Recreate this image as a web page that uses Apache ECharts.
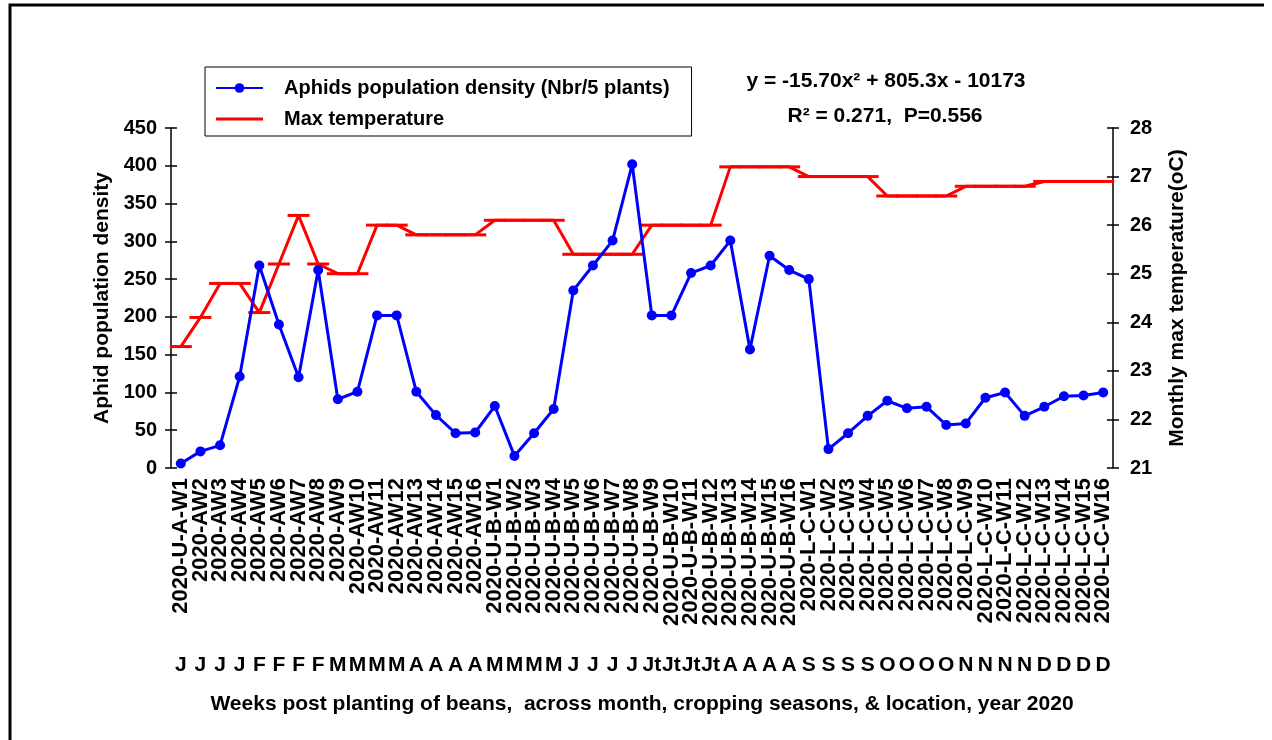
<!DOCTYPE html>
<html>
<head>
<meta charset="utf-8">
<title>Aphid population density and max temperature, 2020</title>
<script src="https://cdn.jsdelivr.net/npm/echarts@6/dist/echarts.min.js"></script>
<style>
  html, body { margin: 0; padding: 0; background: #fff; }
  #chart { width: 1272px; height: 740px; }
</style>
</head>
<body>
<div id="chart"></div>
<script>
// Weekly sampling points across the three cropping seasons / locations
const WEEKS = [
  '2020-U-A-W1', '2020-AW2', '2020-AW3', '2020-AW4', '2020-AW5', '2020-AW6', '2020-AW7', '2020-AW8',
  '2020-AW9', '2020-AW10', '2020-AW11', '2020-AW12', '2020-AW13', '2020-AW14', '2020-AW15', '2020-AW16',
  '2020-U-B-W1', '2020-U-B-W2', '2020-U-B-W3', '2020-U-B-W4', '2020-U-B-W5', '2020-U-B-W6', '2020-U-B-W7', '2020-U-B-W8',
  '2020-U-B-W9', '2020-U-B-W10', '2020-U-B-W11', '2020-U-B-W12', '2020-U-B-W13', '2020-U-B-W14', '2020-U-B-W15', '2020-U-B-W16',
  '2020-L-C-W1', '2020-L-C-W2', '2020-L-C-W3', '2020-L-C-W4', '2020-L-C-W5', '2020-L-C-W6', '2020-L-C-W7', '2020-L-C-W8',
  '2020-L-C-W9', '2020-L-C-W10', '2020-L-C-W11', '2020-L-C-W12', '2020-L-C-W13', '2020-L-C-W14', '2020-L-C-W15', '2020-L-C-W16'
];

// Month initial for each sampling week
const MONTHS = [
  'J', 'J', 'J', 'J', 'F', 'F', 'F', 'F', 'M', 'M', 'M', 'M', 'A', 'A', 'A', 'A',
  'M', 'M', 'M', 'M', 'J', 'J', 'J', 'J', 'Jt', 'Jt', 'Jt', 'Jt', 'A', 'A', 'A', 'A',
  'S', 'S', 'S', 'S', 'O', 'O', 'O', 'O', 'N', 'N', 'N', 'N', 'D', 'D', 'D', 'D'
];

// Aphids per 5 plants
const APHIDS = [
  6, 22, 30, 121, 268, 190, 120, 262, 91, 101, 202, 202, 101, 70, 46, 47,
  82, 16, 46, 78, 235, 268, 301, 402, 202, 202, 258, 268, 301, 157, 281, 262,
  250, 25, 46, 69, 89, 79, 81, 57, 59, 93, 100, 69, 81, 95, 96, 100
];

// Monthly maximum temperature (°C)
const MAX_TEMP = [
  23.5, 24.1, 24.8, 24.8, 24.2, 25.2, 26.2, 25.2, 25.0, 25.0, 26.0, 26.0, 25.8, 25.8, 25.8, 25.8,
  26.1, 26.1, 26.1, 26.1, 25.4, 25.4, 25.4, 25.4, 26.0, 26.0, 26.0, 26.0, 27.2, 27.2, 27.2, 27.2,
  27.0, 27.0, 27.0, 27.0, 26.6, 26.6, 26.6, 26.6, 26.8, 26.8, 26.8, 26.8, 26.9, 26.9, 26.9, 26.9
];

const SERIES_NAMES = ['Aphids population density (Nbr/5 plants)', 'Max temperature'];
const FIT_LINES = ['y = -15.70x² + 805.3x - 10173', 'R² = 0.271,  P=0.556'];

const FONT = '"Liberation Sans", Arial, Helvetica, sans-serif';
const BLUE = '#0000FF';
const RED = '#FF0000';
const AXIS = '#000000';

const chart = echarts.init(document.getElementById('chart'), null, { renderer: 'canvas' });

const tickLabel = { fontFamily: FONT, fontWeight: 'bold', fontSize: 20, color: '#000' };

const option = {
  backgroundColor: '#ffffff',
  animation: false,
  textStyle: { fontFamily: FONT },
  grid: { left: 171, right: 159, top: 128, bottom: 272, containLabel: false },
  legend: {
    left: 205,
    top: 67,
    orient: 'vertical',
    padding: [11, 22, 7, 10],
    itemGap: 11,
    itemWidth: 47,
    itemHeight: 12,
    borderColor: '#000',
    borderWidth: 1,
    borderRadius: 0,
    backgroundColor: '#fff',
    textStyle: { fontFamily: FONT, fontWeight: 'bold', fontSize: 20, color: '#000', padding: [0, 0, 0, 16] },
    data: [
      { name: SERIES_NAMES[0] },
      { name: SERIES_NAMES[1], icon: 'path://M0,0H47V3H0Z' }
    ]
  },
  xAxis: [
    {
      type: 'category',
      data: WEEKS,
      boundaryGap: true,
      axisLine: { show: false },
      axisTick: { show: false },
      splitLine: { show: false },
      axisLabel: {
        interval: 0,
        rotate: 90,
        margin: 10,
        fontFamily: FONT,
        fontWeight: 'bold',
        fontSize: 22,
        color: '#000'
      }
    },
    {
      type: 'category',
      data: MONTHS,
      position: 'bottom',
      offset: 179,
      boundaryGap: true,
      axisLine: { show: false },
      axisTick: { show: false },
      splitLine: { show: false },
      axisLabel: {
        interval: 0,
        margin: 8,
        fontFamily: FONT,
        fontWeight: 'bold',
        fontSize: 21,
        color: '#000'
      },
      name: 'Weeks post planting of beans,  across month, cropping seasons, & location, year 2020',
      nameLocation: 'middle',
      nameGap: 47,
      nameTextStyle: { fontFamily: FONT, fontWeight: 'bold', fontSize: 21, color: '#000' }
    }
  ],
  yAxis: [
    {
      type: 'value',
      position: 'left',
      min: 0,
      max: 450,
      interval: 50,
      name: 'Aphid population density',
      nameLocation: 'middle',
      nameRotate: 90,
      nameGap: 33,
      nameTextStyle: { fontFamily: FONT, fontWeight: 'bold', fontSize: 21, color: '#000' },
      axisLine: { show: true, lineStyle: { color: AXIS, width: 1.5 } },
      axisTick: { show: true, length: 6, lineStyle: { color: AXIS, width: 1.5 } },
      splitLine: { show: false },
      axisLabel: Object.assign({ margin: 14 }, tickLabel)
    },
    {
      type: 'value',
      position: 'right',
      min: 21,
      max: 28,
      interval: 1,
      name: 'Monthly max temperature(oC)',
      nameLocation: 'middle',
      nameRotate: 90,
      nameGap: 54,
      nameTextStyle: { fontFamily: FONT, fontWeight: 'bold', fontSize: 21, color: '#000' },
      axisLine: { show: true, lineStyle: { color: AXIS, width: 1.5 } },
      axisTick: { show: true, length: 6, lineStyle: { color: AXIS, width: 1.5 } },
      splitLine: { show: false },
      axisLabel: Object.assign({ margin: 17 }, tickLabel)
    },
    // inner halves of the crossing tick marks
    {
      type: 'value',
      position: 'left',
      min: 0,
      max: 450,
      interval: 50,
      axisLine: { show: false },
      axisTick: { show: true, inside: true, length: 6, lineStyle: { color: AXIS, width: 1.5 } },
      axisLabel: { show: false },
      splitLine: { show: false }
    },
    {
      type: 'value',
      position: 'right',
      min: 21,
      max: 28,
      interval: 1,
      axisLine: { show: false },
      axisTick: { show: true, inside: true, length: 6, lineStyle: { color: AXIS, width: 1.5 } },
      axisLabel: { show: false },
      splitLine: { show: false }
    }
  ],
  series: [
    {
      name: SERIES_NAMES[1],
      type: 'line',
      xAxisIndex: 0,
      yAxisIndex: 1,
      data: MAX_TEMP,
      symbol: 'rect',
      symbolSize: [22, 3],
      showAllSymbol: true,
      lineStyle: { color: RED, width: 3 },
      itemStyle: { color: RED },
      z: 2
    },
    {
      name: SERIES_NAMES[0],
      type: 'line',
      xAxisIndex: 0,
      yAxisIndex: 0,
      data: APHIDS,
      symbol: 'circle',
      symbolSize: 10,
      showAllSymbol: true,
      lineStyle: { color: BLUE, width: 3 },
      itemStyle: { color: BLUE },
      z: 3
    }
  ],
  graphic: [
    {
      type: 'text',
      x: 886,
      y: 81,
      style: {
        text: FIT_LINES[0],
        fontFamily: FONT, fontWeight: 'bold', fontSize: 21, fill: '#000',
        align: 'center', verticalAlign: 'middle'
      }
    },
    {
      type: 'text',
      x: 885,
      y: 116,
      style: {
        text: FIT_LINES[1],
        fontFamily: FONT, fontWeight: 'bold', fontSize: 21, fill: '#000',
        align: 'center', verticalAlign: 'middle'
      }
    },
    // chart-area frame
    {
      type: 'polyline',
      shape: { points: [[10, 745], [10, 5], [1264, 5]] },
      style: { stroke: '#000', lineWidth: 3, fill: null }
    }
  ]
};

chart.setOption(option);
</script>
</body>
</html>
